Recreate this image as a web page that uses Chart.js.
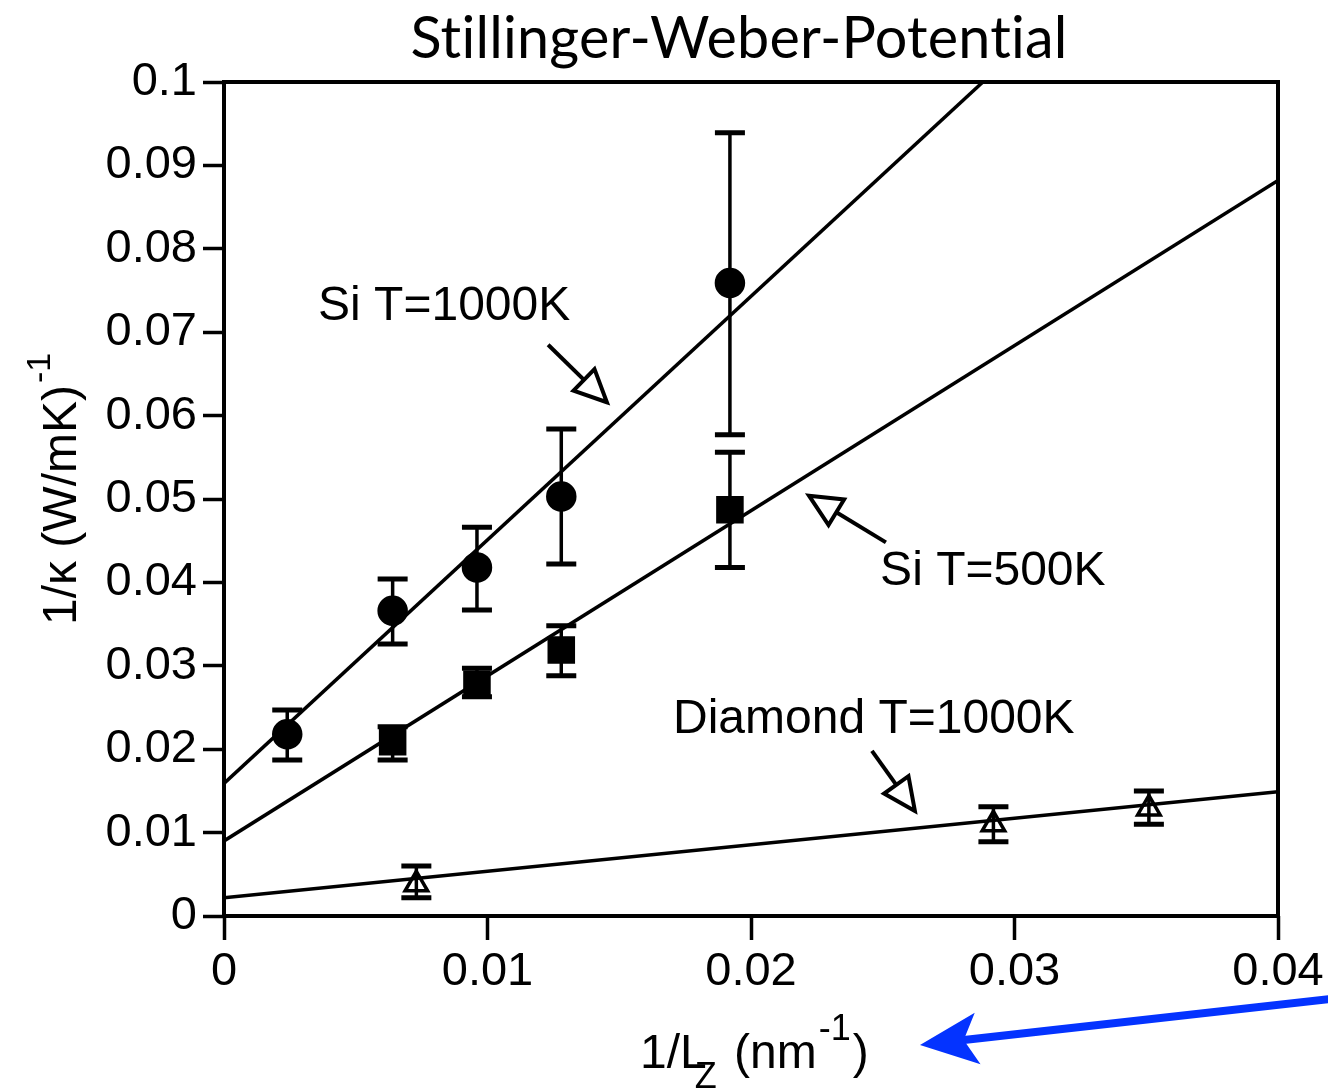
<!DOCTYPE html>
<html>
<head>
<meta charset="utf-8">
<title>Stillinger-Weber-Potential</title>
<script src="https://cdn.jsdelivr.net/npm/chart.js@4.4.1/dist/chart.umd.min.js"></script>
<style>
    html, body { margin: 0; padding: 0; background: #fff; }
    #chart { display: block; }
</style>
</head>
<body>
<canvas id="chart" width="1328" height="1090"></canvas>
<script>
// x = 1/Lz (nm^-1), y = 1/kappa (W/mK)^-1
const si1000X  = [0.0024, 0.0064, 0.0096, 0.0128, 0.0192];
const si1000Y  = [0.0218, 0.0366, 0.0418, 0.0503, 0.0759];
const si1000Hi = [0.0247, 0.0404, 0.0466, 0.0584, 0.0939];
const si1000Lo = [0.0187, 0.0326, 0.0367, 0.0422, 0.0577];

const si500X  = [0.0064, 0.0096, 0.0128, 0.0192];
const si500Y  = [0.0209, 0.0278, 0.0319, 0.0487];
const si500Hi = [0.0227, 0.0297, 0.0348, 0.0556];
const si500Lo = [0.0187, 0.0263, 0.0288, 0.0418];

const diamondX  = [0.0073, 0.0292, 0.0351];
const diamondY  = [0.0038, 0.0110, 0.0129];
const diamondHi = [0.0060, 0.0131, 0.0150];
const diamondLo = [0.0022, 0.0089, 0.0110];

// fit lines (end points)
const si1000FitX  = [0, 0.0288];
const si1000FitY  = [0.0159, 0.1];
const si500FitX   = [0, 0.04];
const si500FitY   = [0.0090, 0.0882];
const diamondFitX = [0, 0.04];
const diamondFitY = [0.0022, 0.0149];

// tick labels
const xTickValues = [0, 0.01, 0.02, 0.03, 0.04];
const yTickValues = [0, 0.01, 0.02, 0.03, 0.04, 0.05, 0.06, 0.07, 0.08, 0.09, 0.1];

// annotations in data coordinates: label position, arrow start, arrow tip
const annotations = [
    { text: "Si T=1000K", at: [0.00357, 0.0730], from: [0.0123, 0.0685], to: [0.01453, 0.0616] },
    { text: "Si T=500K", at: [0.0249, 0.04125], from: [0.02512, 0.0448], to: [0.0222, 0.0504] },
    { text: "Diamond T=1000K", at: [0.01704, 0.0235], from: [0.02459, 0.0198], to: [0.02622, 0.0126] },
];

const FONT = "'Liberation Sans', Arial, Helvetica, sans-serif";

const toPoints = (xs, ys) => xs.map((x, i) => ({ x: x, y: ys[i] }));

const fitLine = (xs, ys) => ({
    type: 'line',
    data: toPoints(xs, ys),
    borderColor: '#000',
    borderWidth: 3.5,
    pointRadius: 0,
    fill: false,
    tension: 0,
});

const markers = (xs, ys, hi, lo, style, radius, fillColor) => ({
    type: 'scatter',
    data: toPoints(xs, ys),
    errHi: hi,
    errLo: lo,
    pointStyle: style,
    pointRadius: radius,
    pointBackgroundColor: fillColor,
    pointBorderColor: '#000',
    pointBorderWidth: 3.5,
    showLine: false,
});

// draw an arrow with an open triangular head
const drawOpenArrow = (ctx, x1, y1, x2, y2) => {
    const len = 32, half = 15;
    const ang = Math.atan2(y2 - y1, x2 - x1);
    const bx = x2 - len * Math.cos(ang), by = y2 - len * Math.sin(ang);
    const nx = -Math.sin(ang), ny = Math.cos(ang);
    ctx.beginPath();
    ctx.moveTo(x1, y1);
    ctx.lineTo(bx, by);
    ctx.stroke();
    ctx.beginPath();
    ctx.moveTo(x2, y2);
    ctx.lineTo(bx + nx * half, by + ny * half);
    ctx.lineTo(bx - nx * half, by - ny * half);
    ctx.closePath();
    ctx.fillStyle = '#fff';
    ctx.fill();
    ctx.stroke();
};

const errorBarPlugin = {
    id: 'errorBars',
    afterDatasetsDraw(chart) {
        const ctx = chart.ctx;
        const yScale = chart.scales.y;
        ctx.save();
        ctx.strokeStyle = '#000';
        chart.data.datasets.forEach((ds, di) => {
            if (!ds.errHi) return;
            const meta = chart.getDatasetMeta(di);
            meta.data.forEach((pt, i) => {
                const yh = yScale.getPixelForValue(ds.errHi[i]);
                const yl = yScale.getPixelForValue(ds.errLo[i]);
                ctx.lineWidth = 3.5;
                ctx.beginPath();
                ctx.moveTo(pt.x, yh);
                ctx.lineTo(pt.x, yl);
                ctx.stroke();
                ctx.lineWidth = 5;
                ctx.beginPath();
                ctx.moveTo(pt.x - 15, yh);
                ctx.lineTo(pt.x + 15, yh);
                ctx.moveTo(pt.x - 15, yl);
                ctx.lineTo(pt.x + 15, yl);
                ctx.stroke();
            });
        });
        ctx.restore();
    },
};

const decorPlugin = {
    id: 'decor',
    afterDraw(chart) {
        const ctx = chart.ctx;
        const area = chart.chartArea;
        const xs = chart.scales.x, ys = chart.scales.y;
        ctx.save();

        // plot frame
        ctx.strokeStyle = '#000';
        ctx.lineWidth = 4;
        ctx.strokeRect(area.left, area.top, area.right - area.left, area.bottom - area.top);

        // annotations
        ctx.font = `48px ${FONT}`;
        ctx.textAlign = 'left';
        ctx.textBaseline = 'middle';
        annotations.forEach(a => {
            ctx.fillStyle = '#000';
            ctx.fillText(a.text, xs.getPixelForValue(a.at[0]), ys.getPixelForValue(a.at[1]));
            ctx.lineWidth = 4;
            ctx.lineJoin = 'miter';
            drawOpenArrow(ctx,
                xs.getPixelForValue(a.from[0]), ys.getPixelForValue(a.from[1]),
                xs.getPixelForValue(a.to[0]), ys.getPixelForValue(a.to[1]));
        });

        // title (no "ti" ligatures)
        const title = "Stillinger-Weber-Potential";
        ctx.save();
        if ('textRendering' in ctx) ctx.textRendering = 'optimizeSpeed';
        if ('letterSpacing' in ctx) ctx.letterSpacing = '0.2px';
        ctx.font = "50px Lato, 'Open Sans', sans-serif";
        const size = 50 * 658 / ctx.measureText(title).width;
        ctx.font = `${size}px Lato, 'Open Sans', sans-serif`;
        ctx.fillStyle = '#000';
        ctx.textAlign = 'center';
        ctx.textBaseline = 'alphabetic';
        ctx.fillText(title, 739, 58);
        ctx.restore();

        ctx.fillStyle = '#000';
        ctx.textBaseline = 'alphabetic';

        // y axis title: 1/κ (W/mK)^-1
        ctx.save();
        ctx.translate(76, 625);
        ctx.rotate(-Math.PI / 2);
        ctx.textAlign = 'left';
        ctx.font = `48px ${FONT}`;
        const yMain = "1/\u03BA (W/mK)";
        ctx.fillText(yMain, 0, 0);
        const yw = ctx.measureText(yMain).width;
        ctx.font = `34px ${FONT}`;
        ctx.fillText("-1", yw + 2, -26);
        ctx.restore();

        // x axis title: 1/Lz (nm^-1)
        ctx.textAlign = 'left';
        ctx.font = `48px ${FONT}`;
        let px = 640;
        ctx.fillText("1/L", px, 1068);
        px += ctx.measureText("1/L").width;
        ctx.font = `36px ${FONT}`;
        ctx.fillText("Z", px - 12, 1088);
        px += ctx.measureText("Z").width - 8;
        ctx.font = `48px ${FONT}`;
        ctx.fillText(" (nm", px, 1068);
        px += ctx.measureText(" (nm").width;
        ctx.font = `36px ${FONT}`;
        ctx.fillText("-1", px + 2, 1040);
        px += ctx.measureText("-1").width + 4;
        ctx.font = `48px ${FONT}`;
        ctx.fillText(")", px, 1068);

        // blue pointer arrow at the bottom right
        const tipX = 920, tipY = 1045, tailX = 1330, tailY = 999;
        const ang = Math.atan2(tailY - tipY, tailX - tipX);
        const dx = Math.cos(ang), dy = Math.sin(ang);
        const nx = -dy, ny = dx;
        const headLen = 58, headHalf = 26, notch = 14;
        ctx.strokeStyle = '#0433FF';
        ctx.fillStyle = '#0433FF';
        ctx.lineWidth = 8;
        ctx.beginPath();
        ctx.moveTo(tailX, tailY);
        ctx.lineTo(tipX + dx * (headLen - notch - 2), tipY + dy * (headLen - notch - 2));
        ctx.stroke();
        ctx.beginPath();
        ctx.moveTo(tipX, tipY);
        ctx.lineTo(tipX + dx * headLen + nx * headHalf, tipY + dy * headLen + ny * headHalf);
        ctx.lineTo(tipX + dx * (headLen - notch), tipY + dy * (headLen - notch));
        ctx.lineTo(tipX + dx * headLen - nx * headHalf, tipY + dy * headLen - ny * headHalf);
        ctx.closePath();
        ctx.fill();

        ctx.restore();
    },
};

const tickFormat = v => (v === 0 ? '0' : String(+v.toFixed(2)));

new Chart(document.getElementById('chart'), {
    type: 'scatter',
    data: {
        datasets: [
            fitLine(si1000FitX, si1000FitY),
            fitLine(si500FitX, si500FitY),
            fitLine(diamondFitX, diamondFitY),
            markers(si1000X, si1000Y, si1000Hi, si1000Lo, 'circle', 13.5, '#000'),
            markers(si500X, si500Y, si500Hi, si500Lo, 'rect', 17, '#000'),
            markers(diamondX, diamondY, diamondHi, diamondLo, 'triangle', 13, 'rgba(0,0,0,0)'),
        ],
    },
    options: {
        responsive: false,
        animation: false,
        devicePixelRatio: 1,
        layout: { padding: { top: 82, right: 50, left: 0, bottom: 0 } },
        plugins: {
            legend: { display: false },
            tooltip: { enabled: false },
            title: { display: false },
        },
        scales: {
            x: {
                type: 'linear',
                min: 0,
                max: 0.04,
                afterBuildTicks: scale => { scale.ticks = xTickValues.map(v => ({ value: v })); },
                afterFit: scale => { scale.height = 174; },
                border: { display: false },
                grid: {
                    drawOnChartArea: false,
                    drawTicks: true,
                    tickLength: 24,
                    tickWidth: 3.5,
                    tickColor: '#000',
                },
                ticks: {
                    color: '#000',
                    font: { family: FONT, size: 47 },
                    padding: 4,
                    maxRotation: 0,
                    callback: tickFormat,
                },
            },
            y: {
                type: 'linear',
                min: 0,
                max: 0.1,
                afterBuildTicks: scale => { scale.ticks = yTickValues.map(v => ({ value: v })); },
                afterFit: scale => { scale.width = 224; },
                border: { display: false },
                grid: {
                    drawOnChartArea: false,
                    drawTicks: true,
                    tickLength: 21,
                    tickWidth: 3.5,
                    tickColor: '#000',
                },
                ticks: {
                    color: '#000',
                    font: { family: FONT, size: 47 },
                    padding: 6,
                    callback: tickFormat,
                },
            },
        },
    },
    plugins: [errorBarPlugin, decorPlugin],
});
</script>
</body>
</html>
